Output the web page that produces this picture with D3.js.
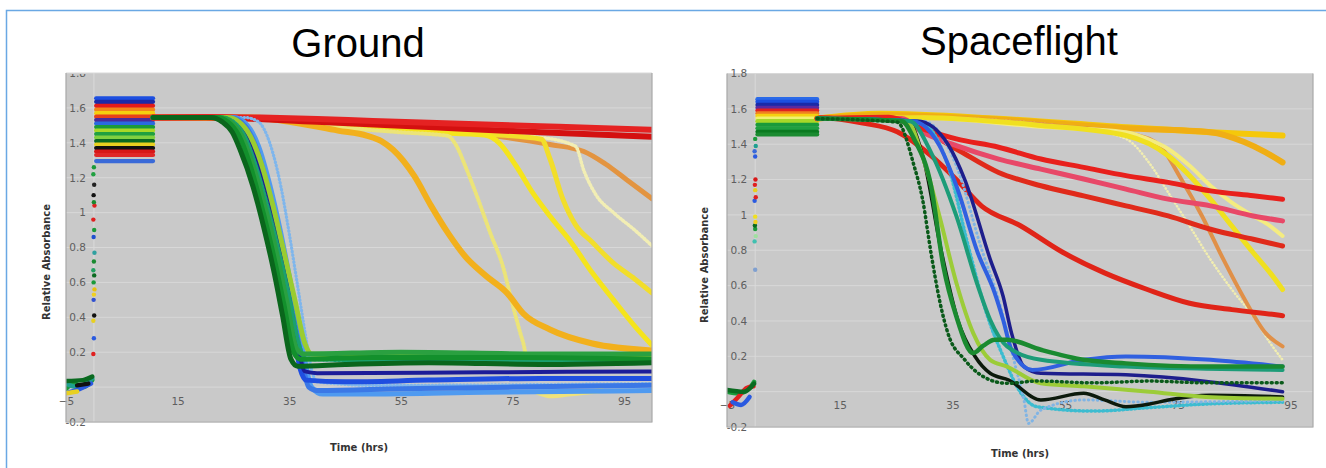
<!DOCTYPE html>
<html><head><meta charset="utf-8">
<script src="https://cdn.jsdelivr.net/npm/d3@7"></script>
<style>body{margin:0;background:#fff;} svg{display:block;}</style>
</head><body><svg id="chart" width="1326" height="468"></svg>
<script>
// ---------------- shared axis values ----------------
const xTicks = [-5, 15, 35, 55, 75, 95];
const yTicks = [-0.2, 0, 0.2, 0.4, 0.6, 0.8, 1, 1.2, 1.4, 1.6, 1.8];
const yTickLabels = ["-0.2", "", "0.2", "0.4", "0.6", "0.8", "1", "1.2", "1.4", "1.6", "1.8"];
const titles = ["Ground", "Spaceflight"];
const xAxisTitle = "Time (hrs)";
const yAxisTitle = "Relative Absorbance";

// ---------------- Ground ----------------
const groundPre = [
  [[-5, -0.01], [-3.5, 0.02], [-2, 0.0], [-0.3, 0.04]],
  [[-5, 0.02], [-3, 0.0], [-1, 0.03], [-0.3, 0.05]],
  [[-4.5, -0.03], [-2.5, -0.01], [-0.5, 0.02]],
  [[-5, -0.035], [-3, -0.025]],
  [[-3, 0.01], [-1, 0.02]],
  [[-5, 0.035], [-2, 0.04], [-0.3, 0.06]]
];
const groundJump = [
  [-0.1, 0.19], [0.0, 0.28], [-0.1, 0.38], [0.05, 0.41], [-0.05, 0.5], [0.0, 0.53], [0.1, 0.56],
  [-0.05, 0.6], [0.05, 0.64], [-0.1, 0.67], [0.0, 0.72], [0.1, 0.77], [-0.05, 0.86], [0.05, 0.9],
  [-0.1, 0.96], [0.1, 1.04], [0.0, 1.06], [-0.05, 1.1], [0.05, 1.16], [-0.1, 1.22], [0.0, 1.26]
];
const groundBandSpan = [0.4, 10.6];
const groundBandLevels = [1.655, 1.635, 1.612, 1.59, 1.57, 1.55, 1.53, 1.51, 1.49, 1.47, 1.45, 1.43, 1.41, 1.39, 1.37, 1.35, 1.33, 1.295];
const groundCurveNames = ["orangeTan", "paleDotted", "yellow3", "yellow2", "yellowDotted", "yellowBottom", "gold",
  "red2", "red", "lightBlue", "sky", "blue3", "blue", "navy", "lightGreen", "teal", "green2", "green", "darkGreen"];
const groundCurves = [
  [[10.6,1.545],[30,1.54],[50,1.49],[66.5,1.46],[74,1.43],[81.7,1.39],[87.8,1.35],[91.6,1.28],[95.4,1.19],[100,1.08]],
  [[10.6,1.545],[30,1.53],[60,1.46],[80,1.43],[86.3,1.38],[87.8,1.24],[90,1.1],[93.1,1.0],[96.9,0.9],[100,0.81]],
  [[10.6,1.545],[28,1.54],[50,1.48],[70,1.45],[80.2,1.42],[81.7,1.31],[84,1.08],[86.3,0.93],[89.3,0.83],[93.1,0.71],[96.9,0.62],[100,0.54]],
  [[10.6,1.545],[28,1.54],[45,1.49],[60,1.46],[70,1.445],[72.6,1.4],[75.6,1.27],[78.7,1.11],[81.7,0.98],[85.5,0.83],[89.3,0.655],[93.1,0.5],[96.9,0.35],[100,0.24]],
  [[10.6,1.545],[28,1.54],[40,1.5],[55,1.46],[63.4,1.44],[65,1.38],[66.5,1.27],[68.8,1.08],[71,0.885],[73.3,0.69],[74.8,0.5],[76.4,0.31],[77.1,0.23],[77.6,0.14]],
  [[79.5,-0.03],[82,-0.05],[85,-0.04],[88,-0.03],[91,-0.02]],
  [[10.6,1.545],[28,1.545],[35,1.52],[43.7,1.47],[49,1.44],[51.5,1.41],[53.6,1.36],[57.4,1.21],[60.4,1.04],[63.4,0.885],[66.5,0.75],[70.3,0.636],[74,0.54],[77,0.42],[81.7,0.33],[89.3,0.25],[100,0.21]],
  [[10.6,1.545],[20,1.545],[40,1.52],[60,1.49],[80,1.46],[100,1.435]],
  [[10.6,1.545],[20,1.548],[30,1.545],[40,1.537],[50,1.525],[60,1.515],[70,1.505],[80,1.495],[90,1.485],[100,1.475]],
  [[10.6,1.545],[27,1.545],[29.5,1.52],[31.5,1.4],[33.5,1.15],[35,0.88],[36.5,0.58],[38,0.28],[39,0.1],[40,0.03],[50,0.01],[100,0.02]],
  [[10.6,1.545],[25,1.545],[27.5,1.5],[29.5,1.38],[31.5,1.16],[33.5,0.88],[35.5,0.55],[37.5,0.2],[39,0.0],[41,-0.04],[50,-0.04],[70,-0.03],[100,-0.02]],
  [[10.6,1.545],[24.5,1.545],[27,1.5],[29,1.38],[31,1.16],[33,0.88],[35,0.55],[37,0.2],[38.5,0.0],[40,-0.02],[55,-0.01],[75,0.0],[100,0.01]],
  [[10.6,1.545],[23,1.545],[25.5,1.51],[27.5,1.42],[29.5,1.26],[31.5,1.02],[33.5,0.72],[35.5,0.38],[37,0.1],[38,0.04],[45,0.03],[60,0.04],[80,0.05],[100,0.05]],
  [[10.6,1.545],[24,1.545],[26.5,1.5],[28.5,1.38],[30.5,1.18],[32.5,0.92],[34.5,0.6],[36.5,0.25],[37.8,0.09],[40,0.08],[70,0.085],[100,0.09]],
  [[10.6,1.545],[24,1.545],[26,1.52],[28,1.44],[30,1.28],[32,1.05],[34,0.78],[36,0.5],[37.8,0.25],[39,0.19],[50,0.185],[100,0.18]],
  [[10.6,1.545],[23,1.545],[25,1.52],[27,1.44],[29,1.27],[31,1.05],[33,0.8],[35,0.52],[36.8,0.24],[38,0.16],[60,0.15],[100,0.15]],
  [[10.6,1.545],[22.5,1.545],[24.5,1.52],[26.5,1.44],[28.5,1.27],[30.5,1.05],[32.5,0.8],[34.5,0.5],[36.3,0.22],[37.5,0.19],[55,0.2],[80,0.19],[100,0.19]],
  [[10.6,1.545],[22,1.545],[24,1.52],[26,1.44],[28,1.27],[30,1.04],[32,0.78],[34,0.48],[35.8,0.2],[37,0.16],[50,0.17],[75,0.17],[100,0.16]],
  [[10.6,1.545],[21,1.545],[23,1.52],[24.8,1.46],[26.2,1.36],[28.5,1.15],[30.4,0.92],[32.3,0.655],[33.8,0.41],[35.3,0.16],[36.5,0.12],[45,0.13],[60,0.14],[80,0.13],[100,0.14]]
];

// ---------------- Spaceflight ----------------
const flightPre = [
  [[-5, 0.0], [-3, -0.01], [-1, 0.02], [-0.2, 0.055]],
  [[-4.5, -0.08], [-3, -0.03], [-1.5, 0.02], [-0.3, 0.03]],
  [[-4, -0.06], [-2.5, -0.075], [-1, -0.03]],
  [[-5, 0.01], [-2, 0.0], [-0.2, 0.045]]
];
const flightJump = [
  [0.0, 0.69], [-0.1, 0.85], [0.1, 0.88], [0.0, 0.92], [-0.05, 0.94], [0.05, 0.96], [0.0, 0.99],
  [-0.1, 1.08], [0.1, 1.1], [0.0, 1.14], [-0.05, 1.17], [0.05, 1.2], [0.0, 1.33], [-0.1, 1.36],
  [0.1, 1.39], [0.0, 1.43]
];
const flightBandSpan = [0.4, 11];
const flightBandLevels = [1.655, 1.64, 1.622, 1.606, 1.59, 1.575, 1.56, 1.545, 1.53, 1.51, 1.49, 1.47, 1.455];
const flightCurveNames = ["goldTop", "goldOrange", "paleDotted", "orangeTan", "yellowLight", "yellow",
  "red3", "red2", "pink", "red1", "cyan", "lightBlue", "black", "lightGreen", "navy", "blue", "teal", "green", "darkGreen"];
const flightCurves = [
  [[11,1.545],[22.1,1.572],[43.2,1.544],[65.8,1.496],[80.8,1.468],[93.6,1.449]],
  [[11,1.545],[22.1,1.565],[43.2,1.54],[65.8,1.49],[80.8,1.468],[86.9,1.411],[90.6,1.354],[93.6,1.297]],
  [[11,1.545],[30,1.55],[58.3,1.487],[65.8,1.43],[70.3,1.278],[73.3,1.127],[77.1,0.937],[80.8,0.748],[84.6,0.578],[88.4,0.426],[91.4,0.275],[93.6,0.18]],
  [[11,1.545],[30,1.55],[55,1.5],[68,1.449],[71.8,1.392],[75.6,1.203],[79.3,0.994],[83.1,0.748],[86.9,0.52],[90.6,0.331],[93.6,0.256]],
  [[11,1.545],[30,1.55],[50,1.5],[65.8,1.468],[69.6,1.43],[73.3,1.373],[77.1,1.278],[80.8,1.165],[84.6,1.07],[88.4,0.994],[91.4,0.937],[93.6,0.881]],
  [[11,1.545],[30,1.55],[50.7,1.506],[65.8,1.449],[73.3,1.335],[77.1,1.222],[80.8,1.089],[84.6,0.937],[88.4,0.786],[91.4,0.672],[93.6,0.578]],
  [[11,1.545],[11.6,1.55],[19.1,1.52],[25.2,1.47],[31.2,1.335],[35.7,1.2],[40.2,1.05],[47,0.94],[54.5,0.79],[62,0.672],[69.6,0.578],[77.1,0.5],[84.6,0.464],[92.1,0.436],[93.6,0.43]],
  [[11,1.545],[24,1.545],[28.2,1.506],[35.7,1.373],[43.2,1.24],[50.7,1.165],[58.3,1.108],[65.8,1.051],[73.3,0.994],[80.8,0.919],[88.4,0.862],[93.6,0.824]],
  [[11,1.545],[26,1.545],[29.7,1.468],[35.7,1.392],[43.2,1.316],[50.7,1.259],[58.3,1.203],[65.8,1.146],[73.3,1.089],[80.8,1.051],[88.4,0.994],[93.6,0.966]],
  [[11,1.545],[23.7,1.553],[29.7,1.487],[35.7,1.43],[43.2,1.383],[50.7,1.316],[58.3,1.269],[65.8,1.222],[73.3,1.184],[80.8,1.136],[88.4,1.108],[93.6,1.089]],
  [[11,1.545],[29,1.53],[34,1.3],[38,0.8],[41,0.45],[44,0.2],[47,0.0],[50,-0.085],[60,-0.11],[70,-0.09],[80,-0.07],[93.6,-0.06]],
  [[11,1.545],[30,1.53],[35.7,1.278],[40.2,0.805],[43.2,0.52],[46.2,0.142],[47.7,-0.047],[48.5,-0.18],[50.7,-0.104],[58.3,-0.047],[70,-0.06],[93.6,-0.05]],
  [[11,1.545],[27,1.53],[30,1.3],[33,0.8],[36,0.4],[39,0.2],[41.7,0.104],[45,0.066],[50.7,-0.047],[58.3,-0.009],[62,-0.047],[65.8,-0.085],[70,-0.07],[73.3,-0.047],[80.8,-0.02],[93.6,-0.03]],
  [[11,1.545],[27,1.53],[29.5,1.35],[32.7,0.994],[35.7,0.616],[38.7,0.331],[41.7,0.18],[44.7,0.142],[50.7,0.047],[58.3,0.03],[70,0.0],[80,-0.03],[93.6,-0.04]],
  [[11,1.545],[29,1.53],[34.2,1.4],[37.2,1.2],[41.7,0.75],[44,0.54],[45.5,0.331],[47.7,0.142],[50.7,0.104],[65.8,0.095],[93.6,0.0]],
  [[11,1.545],[28,1.53],[32.7,1.392],[35.7,1.165],[39.5,0.786],[42.5,0.559],[44,0.407],[45.5,0.237],[49.2,0.123],[58.3,0.18],[65.8,0.199],[80.8,0.18],[93.6,0.142]],
  [[11,1.545],[27.5,1.53],[31.2,1.354],[35.7,0.994],[39.5,0.6],[41.7,0.407],[44.7,0.256],[50.7,0.18],[65.8,0.142],[80,0.13],[93.6,0.123]],
  [[11,1.545],[26,1.53],[28.2,1.43],[31.2,1.165],[33.4,0.71],[35.7,0.426],[38.7,0.218],[40.5,0.26],[42.5,0.294],[44.7,0.294],[50.7,0.237],[58.3,0.18],[65.8,0.16],[80.8,0.142],[93.6,0.142]],
  [[11,1.545],[25.2,1.525],[28.2,1.278],[29.7,1.089],[31.2,0.786],[32.7,0.52],[34.2,0.331],[37.2,0.18],[41.7,0.066],[44.7,0.047],[50,0.06],[60,0.05],[70,0.06],[80,0.05],[93.6,0.05]]
];

// ---------------- styles (kept apart from data) ----------------
const groundPreColors = ["#1a9a3a", "#20a090", "#2a5ae0", "#e8d020", "#111111", "#0a6a20"];
const groundJumpColors = ["#e02020","#2a5ae0","#e8d020","#111111","#3050d0","#f0d020","#e8c010","#1a9a3a","#0a6a20","#20a060","#1a8a30","#30a0a0","#2050d0","#1a9a3a","#e02020","#e02020","#1a8a30","#111111","#222222","#20a040","#1a9a3a"];
const groundBandColors = ["#1d4fe0","#1a2aa8","#e21b1b","#f2861a","#f5cf10","#e8401a","#4a2a9a","#2a6ae0","#1a9a3a","#a8d828","#20a040","#80d040","#0a6a20","#e8d020","#111111","#d81818","#e02828","#3a6ad8","#2a7a3a"];
const groundCurveColors = ["#e39440","#f2eeb4","#f2de2a","#f5e41c","#ece478","#efe27a","#f2b01c","#d41010","#e52222","#7fb6ec","#4f9af0","#3b78e6","#1f4ee0","#1c1c98","#9acc30","#1aa070","#2aa040","#13902c","#0a661c"];
const groundCurveWidths = [5,3.5,5,5,4,5,6,6,6,3.2,5,5,5,4,5,4,5,5,5];
const groundCurveDash = [null,"1 2.5",null,null,"1 2.5",null,null,null,null,"0.5 3",null,null,null,null,null,"2 2",null,null,null];

const flightPreColors = ["#1a9a3a", "#e02020", "#2a5ae0", "#0a6a20"];
const flightJumpColors = ["#80a0d0","#40c0b0","#a0e0a0","#1a9a3a","#0a6a20","#f0d020","#f0e020","#2a5ae0","#e02020","#e8d020","#e02020","#d81818","#2a5ae0","#3a6ad8","#20a090","#1a9a3a"];
const flightBandColors = ["#2a6ae8","#1d4fe0","#1a2aa8","#5a2aa0","#e02020","#f08020","#f5d010","#f0f070","#a8d828","#1a9a3a","#20a040","#0a7a20","#1a8a30"];
const flightCurveColors = ["#f5c80a","#f0ae14","#f2eeb0","#e09048","#f4ec80","#f0e020","#e02418","#e02a1a","#e84868","#e8201c","#3cbcd0","#80b4e4","#0c1a0c","#9ccc38","#1e1e8c","#3060e0","#1c9c78","#1a8a30","#0a5a1a"];
const flightCurveWidths = [6,6,2.5,4,4,5,5,5,5,5,3.5,3,3.5,4,3.5,4,4,4.5,3.5];
const flightCurveDash = [null,null,"0.5 3",null,null,null,null,null,null,null,"1 3","0.5 4",null,null,null,null,null,null,"1 4"];

// ---------------- drawing ----------------
const svg = d3.select("#chart");
svg.append("path").attr("d", "M6.5,468V10.5H1326")
  .attr("fill", "none").attr("stroke", "#6aa8e4").attr("stroke-width", 1.5);

function panel(cfg) {
  const x = d3.scaleLinear().domain(cfg.xDomain).range(cfg.xRange);
  const y = d3.scaleLinear().domain([-0.2, 1.8]).range(cfg.yRange);
  const g = svg.append("g");
  const [x0, x1] = cfg.xRange; const [yb, yt] = cfg.yRange;

  g.append("rect").attr("x", x0).attr("y", yt).attr("width", x1 - x0).attr("height", yb - yt).attr("fill", "#c9c9c9");
  g.selectAll(".grid").data(yTicks).join("line")
    .attr("x1", x0).attr("x2", x1).attr("y1", d => y(d)).attr("y2", d => y(d))
    .attr("stroke", "#d8d8d8").attr("stroke-width", 1);
  g.append("line").attr("x1", x(0)).attr("x2", x(0)).attr("y1", yt).attr("y2", yb).attr("stroke", "#dadada");

  const labelClip = "lclip" + cfg.id;
  svg.append("clipPath").attr("id", labelClip).append("rect")
    .attr("x", 0).attr("y", cfg.labelTop).attr("width", 1326).attr("height", 468);
  const xa = g.append("g").attr("transform", `translate(0,${y(0)})`)
    .call(d3.axisBottom(x).tickValues(xTicks).tickSize(0).tickPadding(10).tickFormat(d3.format("d")));
  const yaWrap = g.append("g").attr("clip-path", `url(#${labelClip})`);
  const ya = yaWrap.append("g").attr("transform", `translate(${x(0) - 1},0)`)
    .call(d3.axisLeft(y).tickValues(yTicks).tickSize(0).tickPadding(7).tickFormat((d, i) => yTickLabels[i]));
  [xa, ya].forEach(a => {
    a.select(".domain").remove();
    a.selectAll("text").attr("fill", "#5e5e5e").style("font-family", "DejaVu Sans, sans-serif").style("font-size", "10.5px");
  });

  const clipId = "clip" + cfg.id;
  svg.append("clipPath").attr("id", clipId).append("rect")
    .attr("x", x0).attr("y", yt).attr("width", x1 - x0).attr("height", yb - yt);
  const d = g.append("g").attr("clip-path", `url(#${clipId})`);
  const line = d3.line().x(p => x(p[0])).y(p => y(p[1])).curve(d3.curveMonotoneX);

  d.selectAll(".pre").data(cfg.pre).join("path")
    .attr("d", line).attr("fill", "none").attr("stroke", (p, i) => cfg.preColors[i])
    .attr("stroke-width", 4.5).attr("stroke-linecap", "round");
  d.selectAll(".jump").data(cfg.jump).join("circle")
    .attr("cx", p => x(p[0])).attr("cy", p => y(p[1])).attr("r", 2.2)
    .attr("fill", (p, i) => cfg.jumpColors[i]);
  d.selectAll(".band").data(cfg.bandLevels).join("path")
    .attr("d", v => line(cfg.bandSpan.map(t => [t, v])))
    .attr("fill", "none").attr("stroke", (v, i) => cfg.bandColors[i])
    .attr("stroke-width", 4.2).attr("stroke-linecap", "round");
  d.selectAll(".curve").data(cfg.curves).join("path")
    .attr("d", line).attr("fill", "none")
    .attr("stroke", (p, i) => cfg.curveColors[i])
    .attr("stroke-width", (p, i) => cfg.curveWidths[i])
    .attr("stroke-dasharray", (p, i) => cfg.curveDash[i])
    .attr("stroke-linecap", "round").attr("stroke-linejoin", "round");

  g.append("path").attr("d", `M${x0},${yt}V${yb}H${x1}V${yt}`).attr("fill", "none").attr("stroke", "#a8a8a8").attr("stroke-width", 1.2);

  svg.append("text").attr("x", cfg.titleX).attr("y", cfg.titleY).attr("text-anchor", "middle")
    .style("font-family", "Liberation Sans, Arial, sans-serif").style("font-size", "40px").attr("fill", "#000").text(cfg.title);
  svg.append("text").attr("x", cfg.xTitleX).attr("y", cfg.xTitleY).attr("text-anchor", "middle")
    .style("font-family", "DejaVu Sans, sans-serif").style("font-size", "10px").style("font-weight", "bold")
    .attr("fill", "#333").text(xAxisTitle);
  svg.append("text").attr("transform", `translate(${cfg.yTitleX},${cfg.yTitleY}) rotate(-90)`).attr("text-anchor", "middle")
    .style("font-family", "DejaVu Sans, sans-serif").style("font-size", "10px").style("font-weight", "bold")
    .attr("fill", "#333").text(yAxisTitle);
}

panel({
  id: "g", title: titles[0], titleX: 358, titleY: 57, labelTop: 74,
  xDomain: [-5, 100], xRange: [66, 652], yRange: [422, 73],
  xTitleX: 359, xTitleY: 451, yTitleX: 50, yTitleY: 262,
  pre: groundPre, preColors: groundPreColors, jump: groundJump, jumpColors: groundJumpColors,
  bandSpan: groundBandSpan, bandLevels: groundBandLevels, bandColors: groundBandColors,
  curves: groundCurves, curveColors: groundCurveColors, curveWidths: groundCurveWidths, curveDash: groundCurveDash
});
panel({
  id: "f", title: titles[1], titleX: 1019, titleY: 55, labelTop: 60,
  xDomain: [-5, 99], xRange: [727, 1313], yRange: [427, 73.5],
  xTitleX: 1020, xTitleY: 457, yTitleX: 708, yTitleY: 265,
  pre: flightPre, preColors: flightPreColors, jump: flightJump, jumpColors: flightJumpColors,
  bandSpan: flightBandSpan, bandLevels: flightBandLevels, bandColors: flightBandColors,
  curves: flightCurves, curveColors: flightCurveColors, curveWidths: flightCurveWidths, curveDash: flightCurveDash
});
</script></body></html>
